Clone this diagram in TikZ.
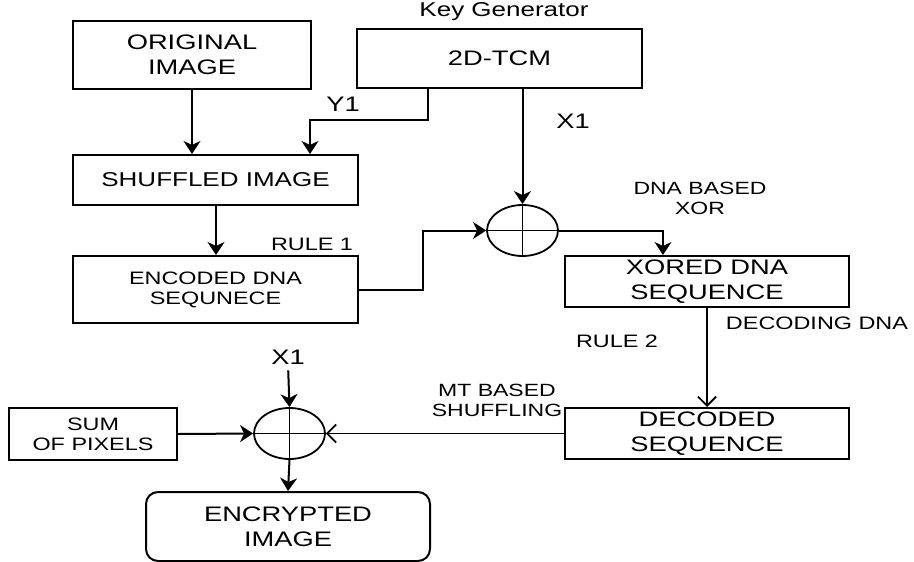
\documentclass[tikz,border=0pt]{standalone}
\usepackage{fontspec}
\setmainfont{Liberation Sans}[FakeStretch=1.3]
\usetikzlibrary{arrows.meta,shapes.geometric}

\newcommand{\fbig}{\fontsize{21}{25}\selectfont}
\newcommand{\fsmall}{\fontsize{18}{20}\selectfont}
\newcommand{\flab}{\fontsize{18}{20}\selectfont}

\tikzset{
  blk/.style={draw, line width=2pt, inner sep=0pt, align=center, font=\fbig},
  lab/.style={inner sep=0pt, align=center, font=\flab},
  xorop/.style={draw, ellipse, line width=1.8pt, inner sep=0pt, minimum width=71pt, minimum height=51pt},
  arr/.style={-{Stealth[length=13pt,width=17pt,inset=4pt]}, line width=2pt},
  oarr/.style={-{Straight Barb[length=9pt,width=18pt]}, line width=1.8pt}
}

\begin{document}
\begin{tikzpicture}[x=1pt, y=-1pt]
    \useasboundingbox (0,0) rectangle (914,562);

    % Key generator
    \node[lab, font=\fontsize{20}{22}\selectfont] (keygen) at (504,12) {Key Generator};
    \node[blk, minimum width=285pt, minimum height=59pt] (tcm) at (499.5,58.5) {2D-TCM};

    % Left column
    \node[blk, minimum width=238pt, minimum height=68pt] (orig) at (192,55) {ORIGINAL\\IMAGE};
    \node[blk, font=\fontsize{20}{24}\selectfont, minimum width=285pt, minimum height=50pt] (shuf) at (215.5,180) {SHUFFLED IMAGE};
    \node[blk, font=\fsmall, minimum width=285pt, minimum height=67pt] (enc) at (215.5,289.5) {ENCODED DNA\\SEQUNECE};

    % Right column
    \node[blk, minimum width=284pt, minimum height=51pt] (xored) at (707,281.5) {XORED DNA\\SEQUENCE};
    \node[blk, minimum width=284pt, minimum height=51pt] (dec) at (707,433.5) {DECODED\\SEQUENCE};

    % Bottom row
    \node[blk, font=\fsmall, minimum width=168pt, minimum height=52pt] (sum) at (93,434) {SUM\\OF PIXELS};
    \node[blk, rounded corners=12pt, minimum width=284pt, minimum height=69pt] (encr) at (288,526.5) {ENCRYPTED\\IMAGE};

    % XOR operators
    \node[xorop] (xa) at (522.5,230.5) {};
    \node[xorop] (xb) at (289.5,433.5) {};
    \foreach \n in {xa,xb} {
        \draw[line width=1.8pt] (\n.north) -- (\n.south);
        \draw[line width=1.8pt] (\n.west) -- (\n.east);
    }

    % Bend points
    \coordinate (ytap) at (428,0);
    \coordinate (yturn) at (310,120);
    \coordinate (ebend) at (423,0);
    \coordinate (xdrop) at (663,0);

    % Connectors
    \draw[arr] (orig.south) -- (orig.south |- shuf.north);
    \draw[arr] (tcm.south -| ytap) |- (yturn) -- (yturn |- shuf.north);
    \draw[arr] (tcm.south -| xa.north) -- (xa.north);
    \draw[arr] (shuf.south -| 216,0) -- (enc.north -| 216,0);
    \draw[arr] (enc.east) -| (ebend |- xa.west) -- (xa.west);
    \draw[arr] (xa.east) -| (xdrop |- xored.north);
    \draw[oarr] (xored.south) -- (dec.north);
    \draw[oarr] (dec.west) -- (xb.east);
    \draw[arr] (sum.east) -- (xb.west);
    \node[lab, font=\fbig] (x1b) at (288,357) {X1};
    \draw[arr, shorten <=6pt] (x1b.south) -- (xb.north);
    \draw[arr] (xb.south) -- (encr.north);

    % Labels
    \node[lab, font=\fbig] (y1) at (343,104) {Y1};
    \node[lab, font=\fbig] (x1a) at (573,121) {X1};
    \node[lab] (rule1) at (312,244) {RULE 1};
    \node[lab, font=\fontsize{17.7}{20}\selectfont] (dnaxor) at (700,198) {DNA BASED\\XOR};
    \node[lab] (decdna) at (817,323) {DECODING DNA};
    \node[lab] (rule2) at (617,341) {RULE 2};
    \node[lab, font=\fontsize{17.7}{20}\selectfont] (mtshuf) at (497,400) {MT BASED\\SHUFFLING};
\end{tikzpicture}
\end{document}
